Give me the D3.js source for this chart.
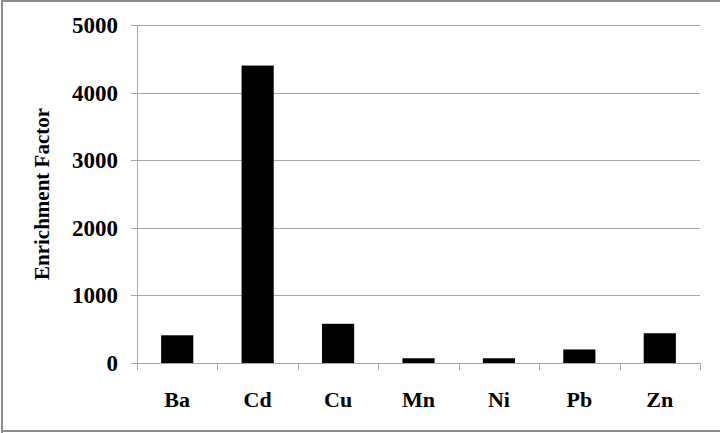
<!DOCTYPE html>
<html>
<head>
<meta charset="utf-8">
<script src="https://cdn.jsdelivr.net/npm/d3@7"></script>
<style>
  body { margin: 0; background: #fff; }
  svg { display: block; }
  text { font-family: "Liberation Serif", "Times New Roman", serif; font-weight: bold; fill: #000; }
</style>
</head>
<body>
<svg width="720" height="433"></svg>
<script>
// chart data
const elements = ["Ba", "Cd", "Cu", "Mn", "Ni", "Pb", "Zn"];
const enrichment = [410, 4400, 580, 70, 70, 200, 440];
const yTicks = [0, 1000, 2000, 3000, 4000, 5000];

const svg = d3.select("svg");
const m = {left: 137, right: 700, top: 25, bottom: 363};

// outer frame
svg.append("path")
    .attr("d", "M2,433 V1 H720 M2,431 H720")
    .attr("fill", "none")
    .attr("stroke", "#8c8c8c")
    .attr("stroke-width", 2);

const x = d3.scaleBand()
    .domain(elements)
    .range([m.left, m.right])
    .padding(0);

const y = d3.scaleLinear()
    .domain([0, 5000])
    .range([m.bottom, m.top]);

// gridlines + tick labels
const grid = svg.append("g");
grid.selectAll("line")
    .data(yTicks)
    .join("line")
    .attr("x1", m.left - 6)
    .attr("x2", m.right)
    .attr("y1", d => Math.round(y(d)) + 0.5)
    .attr("y2", d => Math.round(y(d)) + 0.5)
    .attr("stroke", "#a6a6a6")
    .attr("stroke-width", 1);

grid.selectAll("text")
    .data(yTicks)
    .join("text")
    .attr("x", 118)
    .attr("y", d => y(d))
    .attr("dy", "0.35em")
    .attr("text-anchor", "end")
    .attr("font-size", 23)
    .text(d => d);

// bars
const bw = x.bandwidth() * 0.4;
svg.append("g").selectAll("rect")
    .data(elements)
    .join("rect")
    .attr("x", (d, i) => x(d) + (x.bandwidth() - bw) / 2)
    .attr("y", (d, i) => y(enrichment[i]))
    .attr("width", bw)
    .attr("height", (d, i) => y(0) - y(enrichment[i]))
    .attr("fill", "#000");

// axes lines
svg.append("line")
    .attr("x1", m.left + 0.5).attr("x2", m.left + 0.5)
    .attr("y1", m.top).attr("y2", m.bottom)
    .attr("stroke", "#a6a6a6");

const xTickPos = elements.map(d => x(d)).concat([m.right]);
svg.append("g").selectAll("line")
    .data(xTickPos)
    .join("line")
    .attr("x1", d => Math.round(d) + 0.5)
    .attr("x2", d => Math.round(d) + 0.5)
    .attr("y1", m.bottom)
    .attr("y2", m.bottom + 7)
    .attr("stroke", "#a6a6a6");

// category labels
svg.append("g").selectAll("text")
    .data(elements)
    .join("text")
    .attr("x", d => x(d) + x.bandwidth() / 2)
    .attr("y", 407)
    .attr("text-anchor", "middle")
    .attr("font-size", 22)
    .text(d => d);

// y title
svg.append("text")
    .attr("transform", "translate(49,194) rotate(-90)")
    .attr("text-anchor", "middle")
    .attr("font-size", 21)
    .text("Enrichment Factor");
</script>
</body>
</html>
